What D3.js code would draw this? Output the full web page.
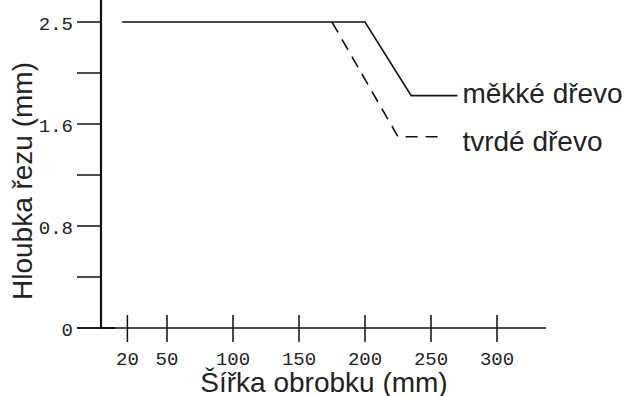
<!DOCTYPE html>
<html>
<head>
<meta charset="utf-8">
<script src="https://cdn.jsdelivr.net/npm/d3@7"></script>
<style>
  body { margin: 0; background: #fff; }
  svg { display: block; }
  .tick-label { font-family: "Liberation Mono", "Courier New", monospace; font-size: 19px; fill: #222; }
  .title { font-family: "Liberation Sans", Arial, sans-serif; font-size: 28px; fill: #222; }
  .legend-label { font-family: "Liberation Sans", Arial, sans-serif; font-size: 28px; fill: #222; }
</style>
</head>
<body>
<div class="svg-container"></div>
<script>
// chart values
const xTicks = [20, 50, 100, 150, 200, 250, 300];
const yMajor = [0, 0.8, 1.6, 2.5];
const yMajorLabels = ["0", "0.8", "1.6", "2.5"];
const yMinor = [0.4, 1.2, 2.05];

const softX = [16, 200, 235, 270];
const softY = [2.5, 2.5, 1.85, 1.85];
const hardX = [175, 225, 255];
const hardY = [2.5, 1.5, 1.5];

const seriesNames = ["měkké dřevo", "tvrdé dřevo"];

document.addEventListener("DOMContentLoaded", () => {
  let width = 628, height = 396;

  let svg = d3.select(".svg-container").append("svg")
    .attr("width", width)
    .attr("height", height);

  // x: linear, y: the printed axis is evenly spaced at 0 / 0.8 / 1.6 / 2.5
  let x = d3.scaleLinear().domain([0, 300]).range([101, 497]);
  let y = d3.scaleLinear().domain([0, 0.8, 1.6, 2.5]).range([328, 226, 124, 22]);

  // x axis line
  svg.append("line")
    .attr("x1", 77).attr("x2", 546)
    .attr("y1", y(0)).attr("y2", y(0))
    .attr("stroke", "#111").attr("stroke-width", 1.5);

  // x ticks crossing the axis
  svg.selectAll(".xtick")
    .data(xTicks)
    .enter().append("line")
    .attr("class", "xtick")
    .attr("x1", d => x(d)).attr("x2", d => x(d))
    .attr("y1", y(0) - 13).attr("y2", y(0) + 14)
    .attr("stroke", "#111").attr("stroke-width", 1.5);

  svg.selectAll(".xlabel")
    .data(xTicks)
    .enter().append("text")
    .attr("class", "tick-label")
    .attr("x", d => x(d))
    .attr("y", 365)
    .style("text-anchor", "middle")
    .text(d => d);

  // y axis with a short foot along the x axis
  svg.append("path")
    .attr("d", "M" + x(0) + ",0V" + y(0) + "H" + (x(0) + 14))
    .attr("fill", "none")
    .attr("stroke", "#111").attr("stroke-width", 2.2);

  svg.selectAll(".ytick")
    .data(yMajor.concat(yMinor))
    .enter().append("line")
    .attr("class", "ytick")
    .attr("x1", 77).attr("x2", x(0))
    .attr("y1", d => y(d)).attr("y2", d => y(d))
    .attr("stroke", "#111").attr("stroke-width", 1.5);

  svg.selectAll(".ylabel")
    .data(yMajor)
    .enter().append("text")
    .attr("class", "tick-label")
    .attr("x", 73)
    .attr("y", d => y(d))
    .attr("dy", "0.42em")
    .style("text-anchor", "end")
    .text((d, i) => yMajorLabels[i]);

  // lines
  let line = d3.line()
    .x(d => x(d[0]))
    .y(d => y(d[1]));

  let soft = softX.map((v, i) => [v, softY[i]]);
  let hard = hardX.map((v, i) => [v, hardY[i]]);

  svg.append("path")
    .datum(soft)
    .attr("d", line)
    .attr("fill", "none")
    .attr("stroke", "#111")
    .attr("stroke-width", 1.6);

  svg.append("path")
    .datum(hard)
    .attr("d", line)
    .attr("fill", "none")
    .attr("stroke", "#111")
    .attr("stroke-width", 1.6)
    .attr("stroke-dasharray", "12,8");

  // labels at line ends
  svg.append("text")
    .attr("class", "legend-label")
    .attr("x", x(softX[softX.length - 1]) + 5)
    .attr("y", y(softY[softY.length - 1]) + 7)
    .text(seriesNames[0]);

  svg.append("text")
    .attr("class", "legend-label")
    .attr("x", x(softX[softX.length - 1]) + 5)
    .attr("y", y(hardY[hardY.length - 1]) + 14)
    .text(seriesNames[1]);

  // axis titles
  svg.append("text")
    .attr("class", "title")
    .attr("x", 324)
    .attr("y", 392)
    .style("text-anchor", "middle")
    .text("Šířka obrobku (mm)");

  svg.append("text")
    .attr("class", "title")
    .attr("transform", "translate(32,181) rotate(-90)")
    .style("text-anchor", "middle")
    .text("Hloubka řezu (mm)");
});
</script>
</body>
</html>
